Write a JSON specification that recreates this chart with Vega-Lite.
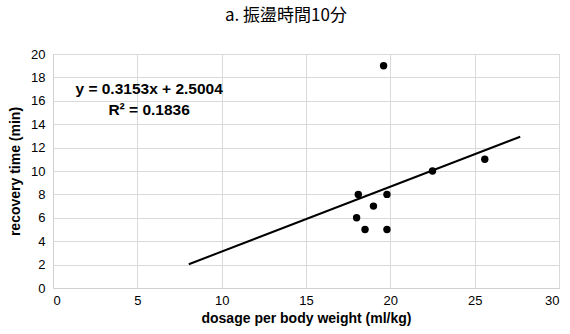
{
  "$schema": "https://vega.github.io/schema/vega-lite/v6.json",
  "width": 506,
  "height": 234,
  "autosize": {"type": "none"},
  "padding": {"left": 53, "top": 54, "right": 11, "bottom": 46},
  "background": "white",
  "title": {
    "text": "a. 振盪時間10分",
    "font": "Noto Sans CJK JP",
    "fontSize": 17,
    "fontWeight": "normal",
    "color": "#000000",
    "anchor": "middle",
    "offset": 23,
    "dx": -20
  },
  "config": {
    "view": {"stroke": "#d9d9d9", "strokeWidth": 1},
    "axis": {
      "labelFont": "Liberation Sans",
      "labelFontSize": 13,
      "labelColor": "#000000",
      "labelOverlap": false,
      "titleFont": "Liberation Sans",
      "titleFontSize": 14,
      "titleFontWeight": "bold",
      "titleColor": "#000000",
      "gridColor": "#d9d9d9",
      "gridWidth": 1,
      "domainColor": "#d0d0d0",
      "ticks": false
    }
  },
  "datasets": {
    "pts": [
      {"dose": 19.6, "time": 19},
      {"dose": 25.6, "time": 11},
      {"dose": 22.5, "time": 10},
      {"dose": 18.1, "time": 8},
      {"dose": 19.8, "time": 8},
      {"dose": 19.0, "time": 7},
      {"dose": 18.0, "time": 6},
      {"dose": 18.5, "time": 5},
      {"dose": 19.8, "time": 5}
    ],
    "trend": [
      {"dose": 8.05, "time": 2.03},
      {"dose": 27.7, "time": 12.93}
    ],
    "labels": [
      {"dose": 5.7, "time": 17.0, "label": "y = 0.3153x + 2.5004"},
      {"dose": 5.7, "time": 15.2, "label": "R² = 0.1836"}
    ]
  },
  "encoding": {
    "x": {
      "field": "dose", "type": "quantitative",
      "scale": {"domain": [0, 30], "nice": false},
      "axis": {"tickCount": 7, "title": "dosage per body weight (ml/kg)", "labelPadding": 6, "titlePadding": 4}
    },
    "y": {
      "field": "time", "type": "quantitative",
      "scale": {"domain": [0, 20], "nice": false},
      "axis": {"tickCount": 11, "title": "recovery time (min)", "labelPadding": 8, "titlePadding": 8}
    }
  },
  "layer": [
    {
      "data": {"name": "trend"},
      "mark": {"type": "line", "color": "#000000", "strokeWidth": 2}
    },
    {
      "data": {"name": "pts"},
      "mark": {"type": "circle", "color": "#000000", "opacity": 1, "size": 55}
    },
    {
      "data": {"name": "labels"},
      "mark": {"type": "text", "font": "Liberation Sans", "fontSize": 15.5, "fontWeight": "bold", "color": "#000000", "align": "center", "baseline": "middle"},
      "encoding": {
        "text": {"field": "label"}
      }
    }
  ]
}
